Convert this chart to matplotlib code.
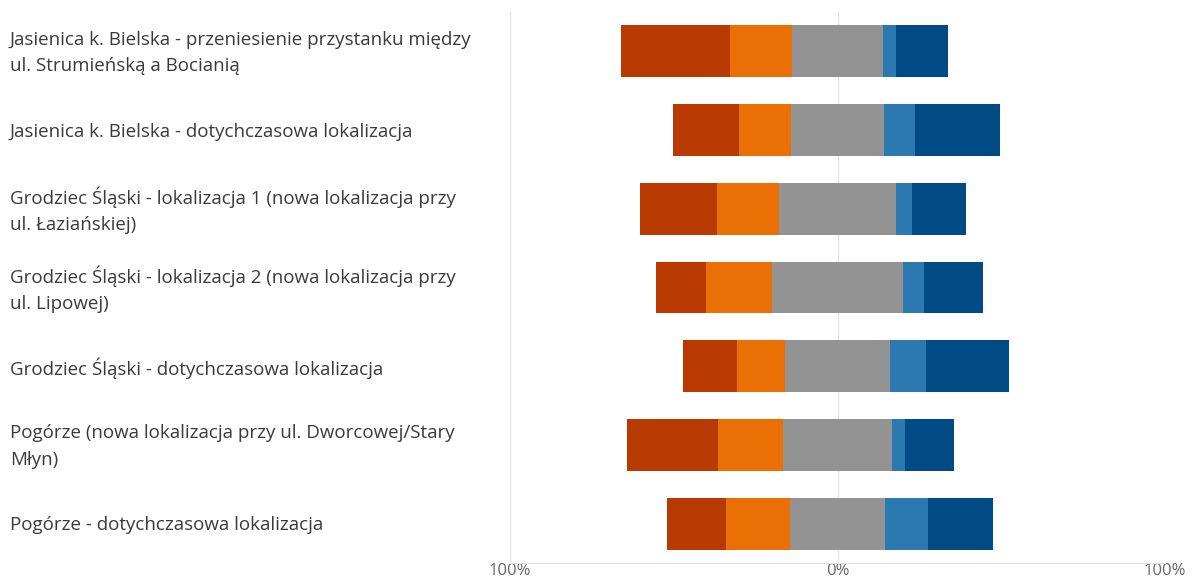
import matplotlib
matplotlib.use("Agg")
import matplotlib.pyplot as plt
import matplotlib.transforms as mtransforms
import numpy as np

categories = [
    "Jasienica k. Bielska - przeniesienie przystanku między\nul. Strumieńską a Bocianią",
    "Jasienica k. Bielska - dotychczasowa lokalizacja",
    "Grodziec Śląski - lokalizacja 1 (nowa lokalizacja przy\nul. Łaziańskiej)",
    "Grodziec Śląski - lokalizacja 2 (nowa lokalizacja przy\nul. Lipowej)",
    "Grodziec Śląski - dotychczasowa lokalizacja",
    "Pogórze (nowa lokalizacja przy ul. Dworcowej/Stary\nMłyn)",
    "Pogórze - dotychczasowa lokalizacja",
]
very_negative = [33.3, 20.2, 23.5, 15.3, 16.5, 27.8, 18.0]
negative = [18.9, 15.9, 18.9, 20.2, 14.7, 19.8, 19.5]
neutral = [28.0, 28.1, 36.0, 40.0, 32.1, 33.3, 29.0]
positive = [4.0, 9.5, 4.9, 6.4, 11.0, 4.0, 13.1]
very_positive = [15.6, 26.0, 16.2, 18.0, 25.3, 15.0, 19.8]
tick_values = [-100, 0, 100]
tick_labels = ["100%", "0%", "100%"]

colors = ["#B93A01", "#EA7006", "#939393", "#2C79B1", "#004A85"]

plt.rcParams['font.family'] = ['Open Sans', 'DejaVu Sans']

fig = plt.figure(figsize=(11.92, 5.81), dpi=100)
ax = fig.add_axes([510/1192, 1 - 563/581, (1165 - 510)/1192, (563 - 12)/581])

y = np.arange(len(categories))
vn = np.array(very_negative)
n = np.array(negative)
ne = np.array(neutral)
p = np.array(positive)
vp = np.array(very_positive)

start = -ne / 2 - n - vn
segments = [vn, n, ne, p, vp]
left = start.copy()
h = 0.66
for seg, c in zip(segments, colors):
    ax.barh(y, seg, left=left, height=h, color=c, edgecolor="none", zorder=3)
    left = left + seg

ax.set_xlim(-100, 100)
ax.set_ylim(len(categories) - 0.5, -0.5)
ax.set_xticks(tick_values)
ax.set_xticklabels(tick_labels, color="#666666", fontsize=12)
ax.tick_params(axis='x', length=0, pad=0)
ax.set_yticks([])
for sp in ["top", "right", "left"]:
    ax.spines[sp].set_visible(False)
ax.spines["bottom"].set_color("#E0E0E0")
ax.spines["bottom"].set_linewidth(0.8)
for xv in tick_values:
    ax.axvline(xv, color="#E3E3E3", linewidth=0.9, zorder=1)

trans = mtransforms.blended_transform_factory(ax.transAxes, ax.transData)
for yi, lab in zip(y, categories):
    ax.text((10 - 510) / (1165 - 510), yi + 0.02, lab, transform=trans,
            ha="left", va="center", fontsize=13.5, color="#3A3A3A",
            linespacing=1.6)

fig.savefig("out.png", dpi=100)
